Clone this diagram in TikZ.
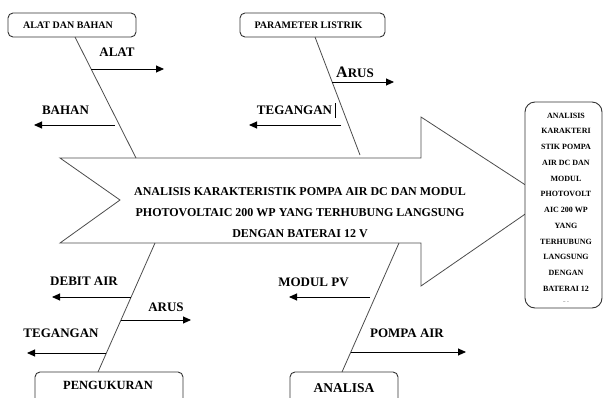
\documentclass[tikz,border=0pt]{standalone}
\usepackage{fontspec}
\setmainfont{Liberation Serif}
\usetikzlibrary{arrows.meta}
\begin{document}
\begin{tikzpicture}[x=1pt,y=-1pt,
  outl/.style={draw=black!70, line width=0.8pt, line join=miter},
  bone/.style={draw=black!70, line width=0.8pt},
  br/.style={draw=black, line width=0.9pt, -{Triangle[length=8pt,width=7pt]}},
  lbl/.style={font=\fontsize{13}{13}\selectfont\bfseries, inner sep=0pt},
  catbox/.style={draw=black!80, line width=0.9pt, rounded corners=5pt, fill=white, inner sep=0pt},
  boxtxt/.style={font=\fontsize{10}{10}\selectfont\bfseries, inner sep=0pt},
  restxt/.style={font=\fontsize{8}{8}\selectfont\bfseries, inner sep=0pt, anchor=base}]
\useasboundingbox (0,0) rectangle (603,397);
\clip (0,0) rectangle (603,397);

% arrow body
\coordinate (tl) at (60,158);
\coordinate (tn) at (120,200);
\coordinate (bl) at (60,243);
\coordinate (tr) at (421,158);
\coordinate (tu) at (421,117);
\coordinate (tip) at (547,199);
\coordinate (td) at (421,286);
\coordinate (brr) at (421,243);
\draw[outl] (tl) -- (tr) -- (tu) -- (tip) -- (td) -- (brr) -- (bl) -- (tn) -- cycle;

\node[align=center, font=\fontsize{12}{21}\selectfont\bfseries, inner sep=0pt] (title) at (300,213)
  {ANALISIS KARAKTERISTIK POMPA AIR DC DAN MODUL\\PHOTOVOLTAIC 200 WP YANG TERHUBUNG LANGSUNG\\DENGAN BATERAI 12 V};

% result box
\node[catbox, rounded corners=10pt, minimum width=77pt, minimum height=206pt] (res) at (563.5,205) {};
\begin{scope}
\clip (525,102) rectangle (602,301);
\foreach \t [count=\i] in {ANALISIS,KARAKTERI,STIK POMPA,AIR DC DAN,MODUL,PHOTOVOLT,AIC 200 WP,YANG,TERHUBUNG,LANGSUNG,DENGAN,BATERAI 12,V}
  \node[restxt] (r\i) at (566,{118+15.75*(\i-1)}) {\t};
\end{scope}

% top boxes
\node[catbox, minimum width=128pt, minimum height=24pt] (ab) at (72,25) {};
\node[boxtxt] (abt) at (68,25) {ALAT DAN BAHAN};
\node[catbox, minimum width=145pt, minimum height=24pt] (pl) at (312.5,25) {};
\node[boxtxt] (plt) at (308.5,25) {PARAMETER LISTRIK};

% bottom boxes
\node[catbox, minimum width=148pt, minimum height=40pt] (pg) at (109,392) {};
\node[font=\fontsize{12.5}{12.5}\selectfont\bfseries, inner sep=0pt] (pgt) at (108,385) {PENGUKURAN};
\node[catbox, minimum width=108pt, minimum height=40pt] (an) at (344,392) {};
\node[font=\fontsize{13.5}{13.5}\selectfont\bfseries, inner sep=0pt] (ant) at (344,388) {ANALISA};

% bones
\coordinate (b1a) at (75,37);   \coordinate (b1b) at (136,158);
\coordinate (b2a) at (315,37);  \coordinate (b2b) at (360,155);
\coordinate (b3a) at (155,243); \coordinate (b3b) at (98,372);
\coordinate (b4a) at (399,243); \coordinate (b4b) at (342,372);
\draw[bone] (b1a) -- (b1b);
\draw[bone] (b2a) -- (b2b);
\draw[bone] (b3a) -- (b3b);
\draw[bone] (b4a) -- (b4b);

% branches
\coordinate (s1) at (91,69);   \coordinate (e1) at (164,69);
\coordinate (s2) at (115,125); \coordinate (e2) at (34,125);
\coordinate (s3) at (332,82);  \coordinate (e3) at (394,82);
\coordinate (s4) at (341,125); \coordinate (e4) at (249,125);
\coordinate (s5) at (131,297); \coordinate (e5) at (52,297);
\coordinate (s6) at (121,320); \coordinate (e6) at (191,320);
\coordinate (s7) at (106,353); \coordinate (e7) at (27,353);
\coordinate (s8) at (370,297); \coordinate (e8) at (289,297);
\coordinate (s9) at (351,352); \coordinate (e9) at (466,352);
\foreach \i in {1,...,9} \draw[br] (s\i) -- (e\i);

% labels
\node[lbl] (l1) at (117,52) {ALAT};
\node[lbl] (l2) at (65.5,110) {BAHAN};
\node[font=\bfseries, inner sep=0pt, anchor=base west] (l3) at (336,77)
  {\fontsize{16}{16}\selectfont A\fontsize{13}{13}\selectfont RUS};
\node[lbl] (l4) at (294.5,110) {TEGANGAN};
\draw[line width=1pt] (335,103) -- (335,118);
\node[lbl] (l5) at (84,281) {DEBIT AIR};
\node[lbl] (l6) at (166,307) {ARUS};
\node[lbl] (l7) at (61,333) {TEGANGAN};
\node[lbl] (l8) at (313.5,282) {MODUL PV};
\node[lbl] (l9) at (407,333) {POMPA AIR};
\end{tikzpicture}
\end{document}
